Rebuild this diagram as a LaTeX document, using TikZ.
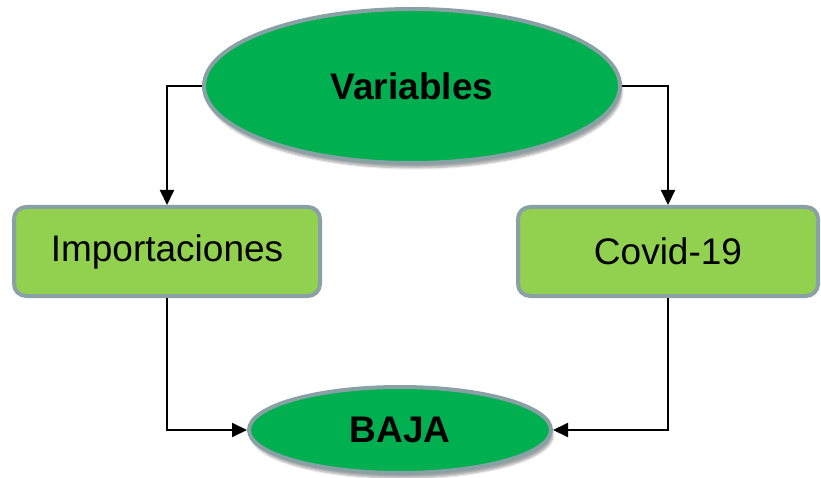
\documentclass[tikz,border=0pt]{standalone}
\usepackage{fontspec}
\setmainfont{Liberation Sans}
\usepackage{tikz}
\usetikzlibrary{positioning,shapes.geometric,arrows.meta,shadows.blur}
\definecolor{verdeosc}{RGB}{0,176,80}
\definecolor{verdecla}{RGB}{146,208,80}
\definecolor{borde}{RGB}{137,160,164}
\tikzset{
    elipse/.style={ellipse, draw=borde, line width=4pt, fill=verdeosc, inner sep=0pt,
        blur shadow={shadow xshift=2pt, shadow yshift=-5pt, shadow blur steps=6, shadow opacity=35}},
    caja/.style={rectangle, rounded corners=12pt, draw=borde, line width=4pt, fill=verdecla, inner sep=0pt},
    flecha/.style={line width=2pt, -{Triangle[length=15pt,width=14pt]}}
}

\begin{document}
\begin{tikzpicture}[x=1pt,y=1pt]
            \useasboundingbox (0,0) rectangle (821,477);
            \node[elipse, minimum width=416pt, minimum height=154pt] (var) at (412,391)
                {\fontsize{37}{44}\selectfont\bfseries Variables};
            \node[caja, minimum width=306pt, minimum height=89pt] (imp) at (167,225.5)
                {\fontsize{37}{44}\selectfont Importaciones};
            \node[caja, minimum width=300pt, minimum height=89pt] (cov) at (668,225.5)
                {\fontsize{37}{44}\selectfont Covid-19};
            \node[elipse, minimum width=302pt, minimum height=86pt] (baja) at (400,47)
                {\fontsize{37}{44}\selectfont\bfseries BAJA};

            \draw[flecha] (var.west) -| (imp.north);
            \draw[flecha] (var.east) -| (cov.north);
            \draw[flecha] (imp.south) |- (baja.west);
            \draw[flecha] (cov.south) |- (baja.east);
        \end{tikzpicture}
\end{document}
